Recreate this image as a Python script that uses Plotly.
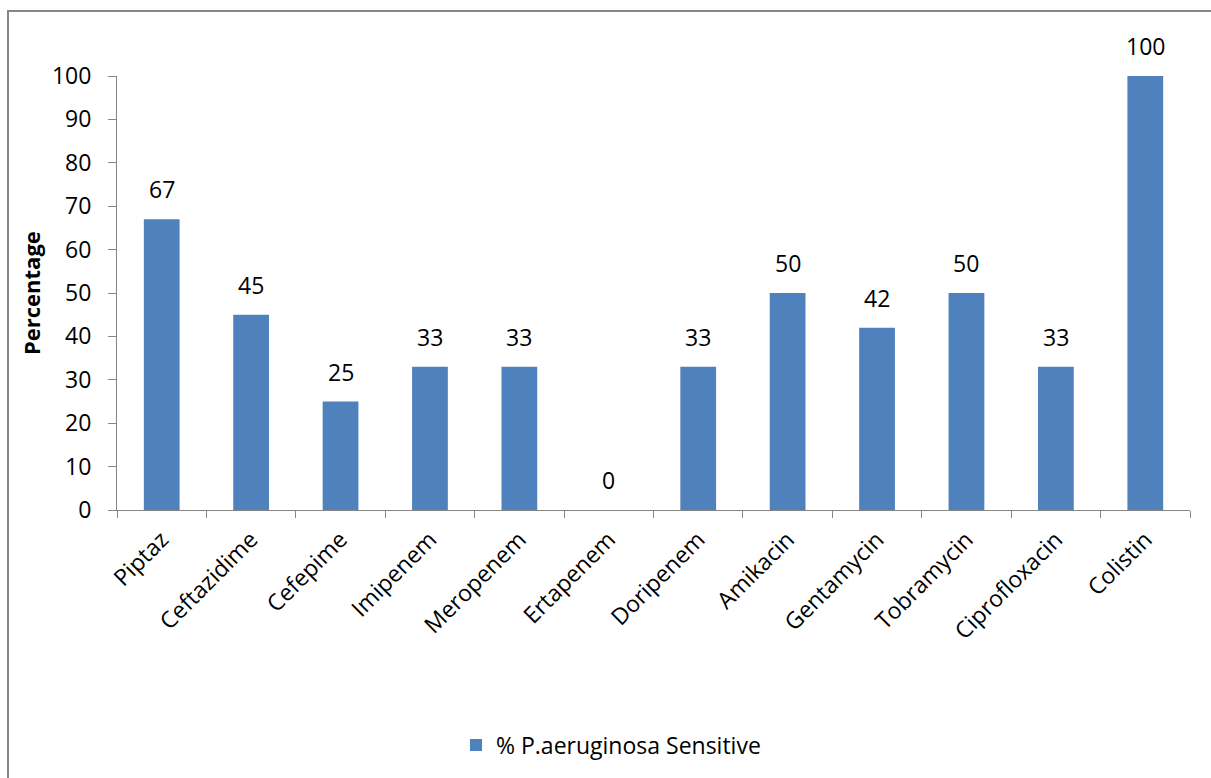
import plotly.graph_objects as go

categories = ["Piptaz", "Ceftazidime", "Cefepime", "Imipenem", "Meropenem", "Ertapenem",
              "Doripenem", "Amikacin", "Gentamycin", "Tobramycin", "Ciprofloxacin", "Colistin"]
values = [67, 45, 25, 33, 33, 0, 33, 50, 42, 50, 33, 100]
series_name = "% P.aeruginosa Sensitive"
y_ticks = [0, 10, 20, 30, 40, 50, 60, 70, 80, 90, 100]

FONT = "Open Sans"
FS = 23
W, H = 1211, 778
ML, MR, MT, MB = 117, 21, 76, 268
pw = W - ML - MR
ph = H - MT - MB

def px_x(x):
    return (x - ML) / pw

def px_y(y):
    return (H - MB - y) / ph

fig = go.Figure()
fig.add_trace(go.Bar(
    x=categories, y=values, name=series_name,
    marker=dict(color="#4F81BD", line=dict(width=0)),
    cliponaxis=False,
))

label_annotations = [
    dict(x=c, y=v, xref="x", yref="y", text=str(v), showarrow=False,
         yanchor="bottom", xanchor="center", yshift=12,
         font=dict(family=FONT, size=FS, color="#000000"))
    for c, v in zip(categories, values)
]

fig.update_layout(
    width=W, height=H,
    margin=dict(l=ML, r=MR, t=MT, b=MB, pad=0),
    paper_bgcolor="white", plot_bgcolor="white",
    bargap=0.6,
    font=dict(family=FONT, size=FS, color="#000000"),
    showlegend=True,
    legend=dict(orientation="h", x=px_x(456), xanchor="left", y=px_y(745), yanchor="middle",
                font=dict(family=FONT, size=FS, color="#000000"),
                itemwidth=30, bgcolor="rgba(0,0,0,0)"),
    xaxis=dict(
        type="category", tickangle=-45, showgrid=False, showline=True,
        linecolor="#868686", linewidth=1, ticks="outside", tickson="boundaries",
        ticklen=7, tickcolor="#868686",
        tickfont=dict(family=FONT, size=FS, color="#000000"),
        ticklabelstandoff=6,
    ),
    yaxis=dict(
        range=[0, 100], tickvals=y_ticks, showgrid=False, showline=True, zeroline=False,
        linecolor="#868686", linewidth=1, ticks="outside", ticklen=8, tickcolor="#868686",
        tickfont=dict(family=FONT, size=FS, color="#000000"),
        ticklabelstandoff=12,
    ),
    shapes=[dict(type="rect", xref="paper", yref="paper",
                 x0=px_x(8), x1=px_x(1230), y0=px_y(800), y1=px_y(11),
                 line=dict(color="#868686", width=2), fillcolor="rgba(0,0,0,0)", layer="below")],
    annotations=label_annotations + [
        dict(text="<b>Percentage</b>", xref="paper", yref="paper",
             x=px_x(31), y=px_y(293), textangle=-90, showarrow=False,
             font=dict(family=FONT, size=FS - 1, color="#000000"),
             xanchor="center", yanchor="middle")],
)

fig.write_html("out.html")
